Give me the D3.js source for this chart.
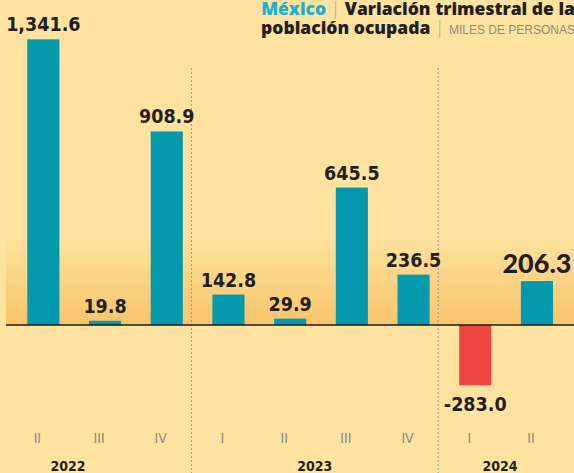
<!DOCTYPE html>
<html>
<head>
<meta charset="utf-8">
<script src="https://cdn.jsdelivr.net/npm/d3@7"></script>
<style>
    html, body { margin: 0; padding: 0; background: #fde39f; }
    svg { display: block; }
</style>
</head>
<body>
<div id="chart"></div>
<script>
// quarterly change in employed population, thousands of persons
const quarters = ["II", "III", "IV", "I", "II", "III", "IV", "I", "II"]
const years = ["2022", "2022", "2022", "2023", "2023", "2023", "2023", "2024", "2024"]
const values = [1341.6, 19.8, 908.9, 142.8, 29.9, 645.5, 236.5, -283.0, 206.3]

const width = 574
const height = 473

const option = {
    margin: { left: 6, right: 0 },
    barColor: "#0499ad",
    negColor: "#ee4540",
    ink: "#231f20",
    grey: "#8c8a82",
    labelFont: "'DejaVu Sans Condensed', 'Liberation Sans Narrow', sans-serif",
    bigFont: "Lato, 'Open Sans', sans-serif",
    titleFont: "'Open Sans', Lato, sans-serif"
}

const svg = d3.select("#chart")
    .append("svg")
    .attr("width", width)
    .attr("height", height)

const data = values.map((v, i) => ({ i: i, value: v, quarter: quarters[i], year: years[i] }))

const x = d3.scaleBand()
    .domain(data.map(d => d.i))
    .range([12.5, 567.8])
    .paddingInner(0.48)
    .paddingOuter(0.24)

const y = d3.scaleLinear()
    .domain(d3.extent(values))
    .range([385.3, 39.3])

const step = x.step()

// warm band just above the zero line
const defs = svg.append("defs")
const grad = defs.append("linearGradient")
    .attr("id", "warm")
    .attr("x1", 0).attr("y1", 0)
    .attr("x2", 0).attr("y2", 1)
grad.append("stop").attr("offset", "0%").attr("stop-color", "#fde39f")
grad.append("stop").attr("offset", "100%").attr("stop-color", "#f8c46a")

svg.append("rect")
    .attr("x", option.margin.left)
    .attr("y", y(0) - 90)
    .attr("width", width - option.margin.left)
    .attr("height", 90)
    .attr("fill", "url(#warm)")

// year dividers
const boundaries = data.filter((d, i) => i > 0 && d.year !== data[i - 1].year)
    .map(d => x(d.i) - 21)

svg.append("g")
    .selectAll("line")
    .data(boundaries)
    .enter()
    .append("line")
    .attr("x1", d => d)
    .attr("x2", d => d)
    .attr("y1", 68)
    .attr("y2", height)
    .attr("stroke", "#9a968a")
    .attr("stroke-width", 1)
    .attr("stroke-dasharray", "2,2")

// bars
svg.append("g")
    .selectAll("rect")
    .data(data)
    .enter()
    .append("rect")
    .attr("x", d => x(d.i))
    .attr("width", x.bandwidth())
    .attr("y", d => y(Math.max(0, d.value)))
    .attr("height", d => Math.abs(y(d.value) - y(0)))
    .attr("fill", d => d.value < 0 ? option.negColor : option.barColor)

// zero line
svg.append("line")
    .attr("x1", option.margin.left)
    .attr("x2", width)
    .attr("y1", y(0))
    .attr("y2", y(0))
    .attr("stroke", "#1c1a1a")
    .attr("stroke-width", 1.6)

// value labels (plain hyphen for the minus, like the print)
const fmt = d3.formatLocale({
    decimal: ".",
    thousands: ",",
    grouping: [3],
    currency: ["$", ""],
    minus: "-"
}).format(",.1f")
const last = data.length - 1
svg.append("g")
    .selectAll("text")
    .data(data)
    .enter()
    .append("text")
    .attr("x", d => x(d.i) + x.bandwidth() / 2)
    .attr("y", d => d.value < 0 ? y(d.value) + 26 : y(d.value) - 8)
    .attr("text-anchor", "middle")
    .attr("font-family", d => d.i === last ? option.bigFont : option.labelFont)
    .attr("font-weight", d => d.i === last ? 900 : "bold")
    .attr("font-size", d => d.i === last ? 27 : 19.5)
    .attr("fill", option.ink)
    .text(d => fmt(d.value))

// quarter ticks
svg.append("g")
    .selectAll("text")
    .data(data)
    .enter()
    .append("text")
    .attr("x", d => x(d.i) + x.bandwidth() / 2 - 6)
    .attr("y", 443)
    .attr("text-anchor", "middle")
    .attr("font-family", "'Liberation Sans Narrow', 'DejaVu Sans Condensed', sans-serif")
    .attr("font-size", 14)
    .attr("fill", option.grey)
    .text(d => d.quarter)

// years, centred on their span of quarters
const yearNames = Array.from(new Set(years))
const yearPos = yearNames.map((yr, k) => {
    const count = years.filter(v => v === yr).length
    const start = k === 0 ? boundaries[0] - 4 * step : boundaries[k - 1]
    const n = k === 0 ? 4 : count
    return { year: yr, x: start + n * step / 2 }
})

svg.append("g")
    .selectAll("text")
    .data(yearPos)
    .enter()
    .append("text")
    .attr("x", d => d.x)
    .attr("y", 471)
    .attr("text-anchor", "middle")
    .attr("font-family", option.labelFont)
    .attr("font-weight", "bold")
    .attr("font-size", 14)
    .attr("fill", option.ink)
    .text(d => d.year)

// title block, right aligned against the edge
const title = svg.append("g")
    .attr("font-family", option.titleFont)
    .attr("font-weight", 800)
    .attr("text-anchor", "end")

const line1 = title.append("text")
    .attr("x", width + 1)
    .attr("y", 15)
    .attr("font-size", 17.5)
line1.append("tspan").attr("fill", "#1eaed0").text("México")
line1.append("tspan").attr("fill", "#a9a59a").attr("font-weight", 300).text(" | ")
line1.append("tspan").attr("fill", option.ink).text("Variación trimestral de la")

const line2 = title.append("text")
    .attr("x", width + 1)
    .attr("y", 34)
    .attr("font-size", 17.5)
line2.append("tspan").attr("fill", option.ink).text("población ocupada")
line2.append("tspan").attr("fill", "#a9a59a").attr("font-weight", 300).text(" | ")
line2.append("tspan")
    .attr("fill", option.grey)
    .attr("font-weight", "normal")
    .attr("font-size", 12)
    .attr("font-family", "'Liberation Sans Narrow', sans-serif")
    .text("MILES DE PERSONAS")
</script>
</body>
</html>
